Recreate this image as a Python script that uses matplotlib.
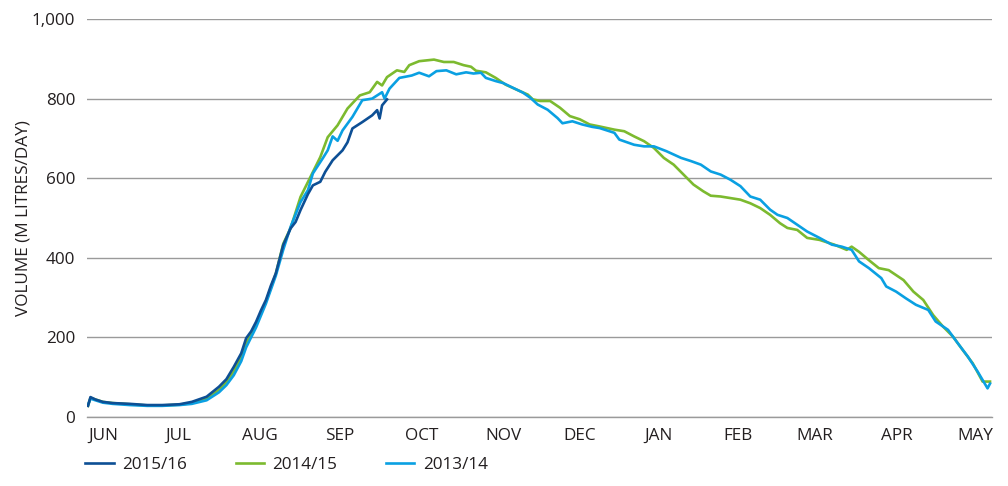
import matplotlib
matplotlib.use("Agg")
import matplotlib.pyplot as plt

# ---- data (day index from 1 June, value in M litres/day) ----
days_1516 = [0, 1, 3, 6, 10, 17, 24, 30, 37, 42, 48, 53, 56, 59, 62, 64, 66, 68, 70, 72, 74, 76,
             79, 82, 84, 86, 89, 91, 94, 96, 99, 103, 105, 107, 111, 115, 117, 118, 119, 121]
vals_1516 = [28, 50, 44, 38, 35, 33, 30, 30, 32, 38, 51, 76, 95, 126, 160, 198, 215, 239, 268, 294, 330, 361,
             432, 474, 490, 520, 560, 582, 591, 616, 645, 670, 690, 725, 741, 758, 771, 750, 783, 798]

days_1415 = [0, 1, 3, 6, 10, 17, 24, 30, 37, 42, 48, 53, 56, 59, 62, 64, 66, 68, 70, 72, 74, 76,
             79, 82, 86, 90, 94, 97, 101, 105, 110, 114, 117, 119, 121, 125, 128, 130, 134, 140,
             144, 148, 152, 155, 157, 161, 165, 169, 174, 178, 180, 183, 187, 191, 195, 199, 203,
             207, 213, 217, 221, 225, 229, 233, 237, 241, 245, 249, 252, 256, 260, 264, 268, 272,
             276, 280, 283, 287, 291, 296, 302, 307, 309, 312, 316, 320, 324, 330, 334, 338, 342,
             346, 350, 354, 358, 362, 365]
vals_1415 = [28, 48, 44, 38, 35, 32, 29, 29, 31, 35, 46, 68, 88, 115, 150, 185, 208, 232, 260, 290, 325, 360,
             435, 475, 553, 603, 653, 703, 733, 775, 808, 816, 842, 833, 854, 871, 867, 884, 894, 898,
             892, 892, 884, 880, 870, 866, 852, 835, 821, 810, 798, 794, 794, 777, 756, 748, 735,
             730, 722, 718, 705, 693, 676, 651, 634, 609, 584, 567, 556, 554, 550, 546, 537, 525,
             508, 487, 475, 470, 450, 445, 433, 420, 428, 415, 394, 374, 369, 344, 315, 294, 256,
             227, 202, 168, 135, 89, 89]

days_1314 = [0, 1, 3, 6, 10, 17, 24, 30, 37, 42, 48, 53, 56, 59, 62, 64, 66, 68, 70, 72, 74, 76,
             79, 82, 86, 89, 91, 95, 97, 99, 101, 103, 107, 111, 115, 119, 120, 122, 126, 131,
             134, 138, 141, 145, 149, 153, 156, 159, 161, 165, 168, 172, 176, 179, 182, 186, 190,
             192, 196, 200, 204, 207, 213, 215, 221, 225, 229, 234, 240, 244, 248, 252, 256, 260,
             264, 268, 272, 276, 279, 283, 287, 291, 296, 301, 305, 309, 312, 316, 321, 323, 327,
             331, 335, 340, 343, 348, 352, 356, 360, 364, 365]
vals_1314 = [30, 46, 42, 36, 33, 30, 28, 28, 30, 33, 42, 62, 80, 105, 140, 175, 200, 225, 255, 285, 320, 355,
             420, 478, 540, 570, 612, 650, 670, 705, 694, 720, 754, 796, 800, 816, 800, 825, 852, 858,
             865, 856, 869, 871, 861, 866, 863, 865, 852, 844, 839, 827, 815, 802, 785, 772, 751,
             738, 743, 735, 729, 726, 714, 697, 684, 680, 680, 668, 651, 643, 634, 617, 609, 596,
             580, 554, 546, 521, 508, 500, 483, 466, 450, 433, 428, 420, 391, 374, 349, 328, 315,
             298, 282, 269, 240, 219, 185, 152, 114, 72, 84]

month_labels = ["JUN", "JUL", "AUG", "SEP", "OCT", "NOV", "DEC", "JAN", "FEB", "MAR", "APR", "MAY"]
month_ticks = [6, 36.4, 69.6, 102, 135.2, 168, 199, 231, 263, 294, 327.4, 359]
y_ticks = [0, 200, 400, 600, 800, 1000]
y_ticklabels = ["0", "200", "400", "600", "800", "1,000"]

C_DARK = "#0D4F95"
C_GREEN = "#7CBA2F"
C_LIGHT = "#0AA0E2"
TXT = "#231F20"
GRID = "#9A9A9A"
FS = 12.3

plt.rcParams["font.family"] = ["Open Sans", "DejaVu Sans"]

fig = plt.figure(figsize=(10.08, 4.86), dpi=100)
ax = fig.add_axes([87 / 1008, 1 - 417 / 486, (992 - 87) / 1008, (417 - 19) / 486])

ax.plot(days_1415, vals_1415, color=C_GREEN, lw=1.9, label="2014/15", zorder=3)
ax.plot(days_1314, vals_1314, color=C_LIGHT, lw=1.9, label="2013/14", zorder=4)
ax.plot(days_1516, vals_1516, color=C_DARK, lw=1.9, label="2015/16", zorder=5)

ax.set_xlim(-0.4, 365.8)
ax.set_ylim(0, 1000)
ax.set_yticks(y_ticks)
ax.set_yticklabels(y_ticklabels)
ax.set_xticks(month_ticks)
ax.set_xticklabels(month_labels)
ax.grid(axis="y", color=GRID, lw=1.0)
ax.set_axisbelow(True)
for s in ["top", "right", "left"]:
    ax.spines[s].set_visible(False)
ax.spines["bottom"].set_color(GRID)
ax.spines["bottom"].set_linewidth(1.0)
ax.tick_params(axis="both", length=0, labelsize=FS, colors=TXT)
ax.tick_params(axis="y", pad=8.5)
ax.tick_params(axis="x", pad=8)
ax.set_ylabel("VOLUME (M LITRES/DAY)", fontsize=FS, color=TXT, labelpad=0)

handles, labels = ax.get_legend_handles_labels()
order = [2, 0, 1]
leg = fig.legend([handles[i] for i in order], [labels[i] for i in order],
                 loc="center left", bbox_to_anchor=(70 / 1008, 1 - 465 / 486), ncol=3,
                 frameon=False, fontsize=FS, handlelength=1.65, handletextpad=0.5,
                 columnspacing=2.85, labelcolor=TXT)

fig.savefig("out.png", dpi=100)
